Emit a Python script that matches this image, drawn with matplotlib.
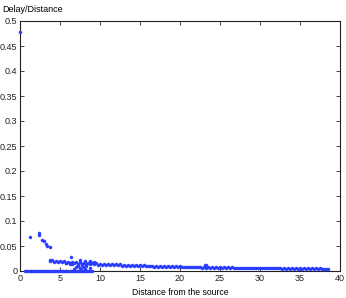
import matplotlib
matplotlib.use("Agg")
import matplotlib.pyplot as plt

# --- data ---
outlier_d = [0.0]
outlier_v = [0.478]

upper_d = [1.25, 2.35, 2.4, 2.8, 3.0, 3.2, 3.4, 3.75, 3.7, 3.8, 6.4, 7.5, 8.1, 8.7, 9.2]
upper_v = [0.069, 0.077, 0.072, 0.062, 0.060, 0.054, 0.051, 0.048, 0.022, 0.020, 0.028, 0.022, 0.020, 0.020, 0.019]

cluster_d = [7.0, 7.3, 7.5, 7.7, 7.9, 8.1, 6.8, 7.6, 8.3, 8.8, 7.2, 7.8, 6.5, 6.2, 5.8]
cluster_v = [0.008, 0.010, 0.006, 0.012, 0.008, 0.005, 0.004, 0.003, 0.010, 0.006, 0.013, 0.015, 0.014, 0.015, 0.016]

zero_d = [0.6, 0.8, 1.0, 1.2, 1.4, 1.6, 1.8, 2.0, 2.2, 2.4, 2.6, 2.8, 3.0, 3.2, 3.4,
          3.6, 3.8, 4.0, 4.2, 4.4, 4.6, 4.8, 5.0, 5.2, 5.4, 5.6, 5.8, 6.0, 6.2, 6.4,
          6.6, 6.8, 7.0, 7.2, 7.4, 7.6, 7.8, 8.0, 8.2, 8.4, 8.6, 8.8, 9.0]
zero_v = [0.0] * len(zero_d)

band_d = [4.0, 4.5, 5.0, 5.5, 6.0, 6.5, 7.0, 7.5, 8.0, 8.5, 9.0, 9.5, 10, 10.5, 11, 11.5,
          12, 12.5, 13, 13.5, 14, 14.5, 15, 15.5, 16, 16.5, 17, 17.5, 18, 18.5, 19, 19.5,
          20, 20.5, 21, 21.5, 22, 22.5, 23, 23.1, 23.3, 23.5, 24, 24.5, 25, 25.5, 26, 26.5,
          27, 27.5, 28, 28.5, 29, 29.5, 30, 30.5, 31, 31.5, 32, 32.5, 33, 33.5, 34,
          34.5, 35, 35.5, 36, 36.5, 37, 37.5, 38, 38.5]
band_v = [0.0215, 0.0208, 0.0201, 0.0194, 0.0188, 0.0182, 0.0176, 0.0171, 0.0166, 0.0161,
          0.0157, 0.0153, 0.0149, 0.0145, 0.0141, 0.0138, 0.0134, 0.0131, 0.0128, 0.0125,
          0.0122, 0.0119, 0.0116, 0.0113, 0.0110, 0.0108, 0.0105, 0.0103, 0.0100, 0.0098,
          0.0096, 0.0094, 0.0092, 0.0090, 0.0088, 0.0086, 0.0084, 0.0083, 0.0081, 0.0115,
          0.0112, 0.0080, 0.0078, 0.0077, 0.0075, 0.0074, 0.0072, 0.0071, 0.0070, 0.0068,
          0.0067, 0.0066, 0.0065, 0.0064, 0.0063, 0.0062, 0.0061, 0.0060, 0.0059, 0.0058,
          0.0057, 0.0057, 0.0056, 0.0055, 0.0054, 0.0054, 0.0053, 0.0052, 0.0052, 0.0051,
          0.0050, 0.0050]

# lower edge of the dense band (points between the sampled ones above)
band2_d = [4.25, 4.75, 5.25, 5.75, 6.25, 6.75, 7.25, 7.75, 8.25, 8.75, 9.25, 9.75, 10.25,
           10.75, 11.25, 11.75, 12.25, 12.75, 13.25, 13.75, 14.25, 14.75, 15.25, 15.75,
           16.25, 16.75, 17.25, 17.75, 18.25, 18.75, 19.25, 19.75, 20.25, 20.75, 21.25,
           21.75, 22.25, 22.75, 23.25, 23.75, 24.25, 24.75, 25.25, 25.75, 26.25, 26.75,
           27.25, 27.75, 28.25, 28.75, 29.25, 29.75, 30.25, 30.75, 31.25, 31.75, 32.25,
           32.75, 33.25, 33.75, 34.25, 34.75, 35.25, 35.75, 36.25, 36.75, 37.25, 37.75,
           38.25]
band2_v = [0.0190, 0.0180, 0.0173, 0.0166, 0.0160, 0.0154, 0.0149, 0.0144, 0.0139, 0.0135,
           0.0131, 0.0127, 0.0123, 0.0120, 0.0117, 0.0114, 0.0111, 0.0108, 0.0105, 0.0103,
           0.0100, 0.0098, 0.0096, 0.0094, 0.0092, 0.0090, 0.0088, 0.0086, 0.0084, 0.0082,
           0.0080, 0.0079, 0.0077, 0.0076, 0.0074, 0.0073, 0.0071, 0.0070, 0.0069, 0.0068,
           0.0066, 0.0065, 0.0064, 0.0063, 0.0062, 0.0061, 0.0060, 0.0059, 0.0058, 0.0057,
           0.0056, 0.0055, 0.0054, 0.0053, 0.0052, 0.0052, 0.0051, 0.0050, 0.0049, 0.0049,
           0.0048, 0.0047, 0.0047, 0.0046, 0.0046, 0.0045, 0.0045, 0.0044, 0.0044]

xticks = [0, 5, 10, 15, 20, 25, 30, 35, 40]
yticks = [0, 0.05, 0.1, 0.15, 0.2, 0.25, 0.3, 0.35, 0.4, 0.45, 0.5]
ytick_labels = ["0", "0.05", "0.1", "0.15", "0.2", "0.25", "0.3", "0.35", "0.4", "0.45", "0.5"]

plt.rcParams['font.family'] = ['Liberation Sans', 'DejaVu Sans']

fig = plt.figure(figsize=(3.46, 2.98), dpi=100)
ax = fig.add_axes([20 / 346, 1 - 271 / 298, 320 / 346, 250 / 298])

color = '#2a3cff'
for d, v in [(outlier_d, outlier_v), (upper_d, upper_v), (cluster_d, cluster_v),
             (zero_d, zero_v), (band_d, band_v), (band2_d, band2_v)]:
    ax.plot(d, v, linestyle='none', marker='o', markersize=2.2,
            markerfacecolor=color, markeredgecolor=color, markeredgewidth=0.3,
            clip_on=False, zorder=3)

ax.set_xlim(0, 40)
ax.set_ylim(0, 0.5)
ax.set_xticks(xticks)
ax.set_xticklabels([str(t) for t in xticks])
ax.set_yticks(yticks)
ax.set_yticklabels(ytick_labels)
ax.tick_params(direction='in', length=3, width=0.6, labelsize=6.5, top=True, right=True,
               pad=2, colors='#222222')
for s in ax.spines.values():
    s.set_linewidth(0.8)
    s.set_color('#222222')

ax.set_xlabel("Distance from the source", fontsize=6.2, labelpad=4)
fig.text(2 / 346, 1 - 10 / 298, "Delay/Distance", fontsize=6.5, va='center', ha='left')

fig.savefig("out.png", dpi=100)
